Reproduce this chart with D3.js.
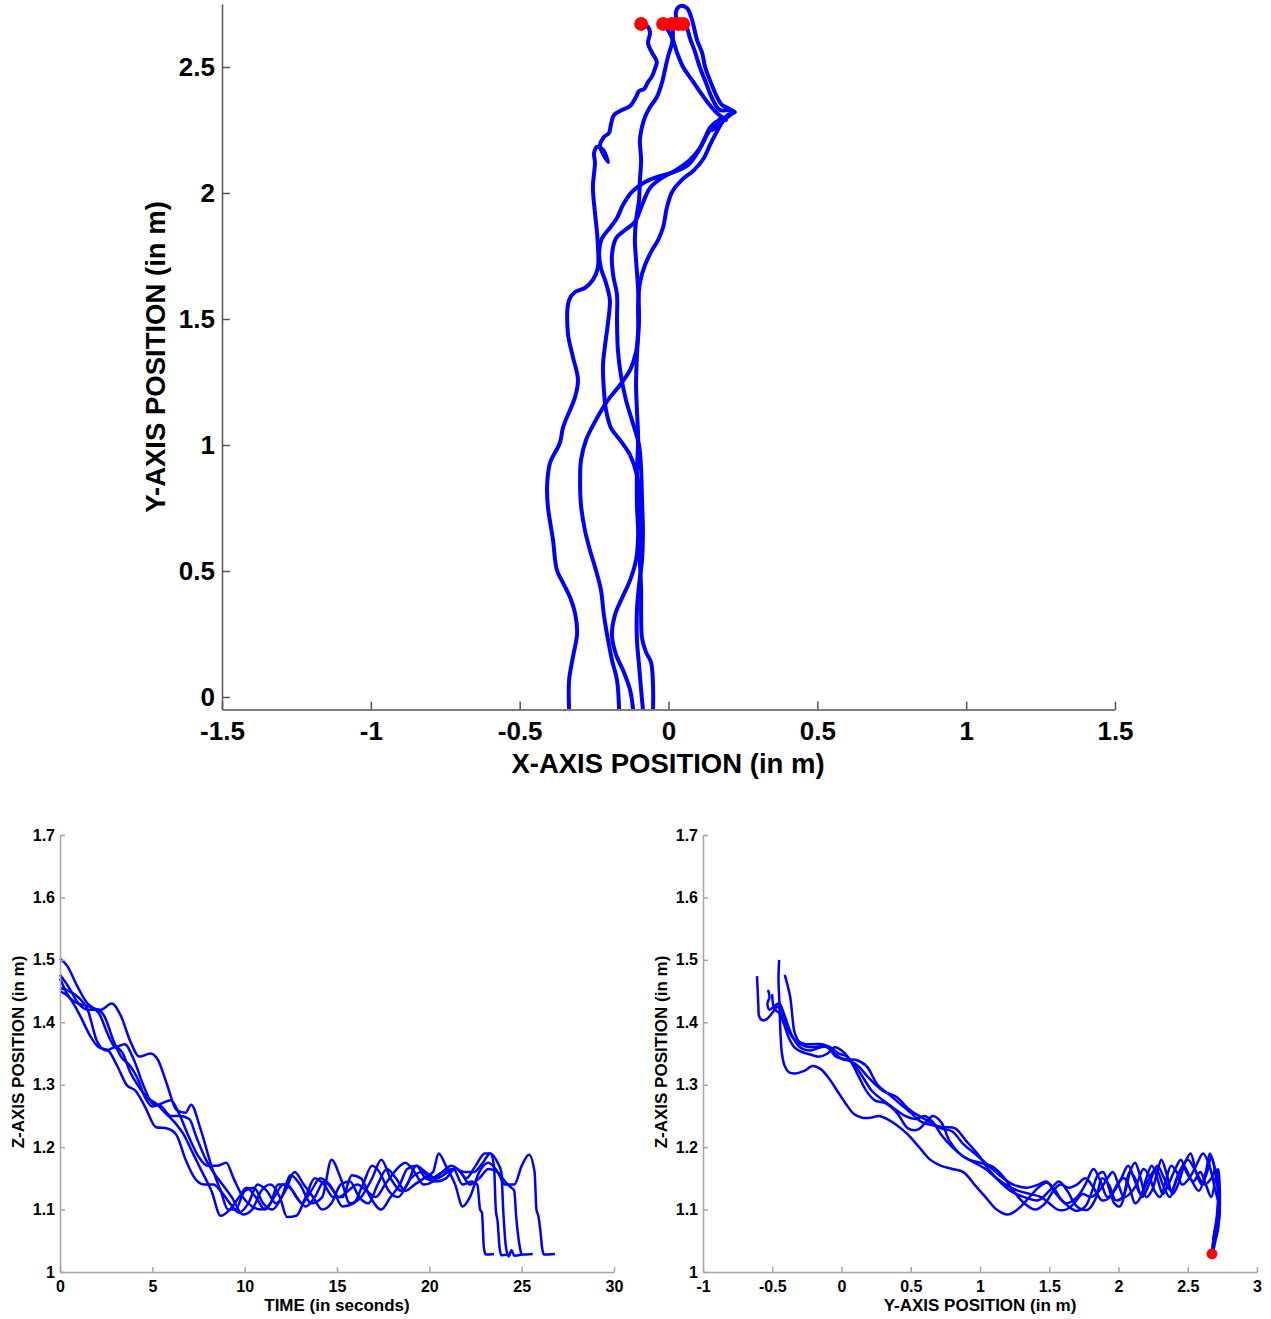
<!DOCTYPE html>
<html>
<head>
<meta charset="utf-8">
<script src="https://cdn.jsdelivr.net/npm/d3@7"></script>
<style>
  body { margin: 0; background: #fff; }
  svg { display: block; }
  text { font-family: "Liberation Sans", Arial, Helvetica, sans-serif; font-weight: bold; fill: #000; }
</style>
</head>
<body>
<svg id="chart" width="1271" height="1319"></svg>
<script>
// ---------- Walking trajectories: floor plane (X, Y) ----------
const trackA = [[-0.334,-0.048],[-0.334,0.067],[-0.321,0.159],[-0.307,0.254],[-0.314,0.333],[-0.331,0.397],[-0.354,0.452],[-0.375,0.504],[-0.388,0.623],[-0.405,0.754],[-0.408,0.833],[-0.398,0.929],[-0.365,1.008],[-0.354,1.071],[-0.314,1.190],[-0.304,1.258],[-0.321,1.349],[-0.338,1.444],[-0.334,1.575],[-0.314,1.607],[-0.281,1.623],[-0.254,1.655],[-0.237,1.706],[-0.237,1.786],[-0.240,1.841],[-0.247,1.921],[-0.254,2.024],[-0.247,2.119],[-0.250,2.159],[-0.240,2.183],[-0.220,2.171],[-0.203,2.123],[-0.230,2.187],[-0.217,2.222],[-0.200,2.238],[-0.193,2.274],[-0.183,2.310],[-0.156,2.329],[-0.129,2.345],[-0.109,2.381],[-0.099,2.405],[-0.082,2.413],[-0.069,2.440],[-0.055,2.464],[-0.045,2.496],[-0.039,2.520],[-0.055,2.556],[-0.069,2.595],[-0.062,2.635],[-0.069,2.659],[-0.092,2.671]];
const trackB = [[-0.166,-0.048],[-0.173,0.067],[-0.190,0.147],[-0.203,0.226],[-0.217,0.325],[-0.227,0.425],[-0.244,0.504],[-0.264,0.583],[-0.281,0.663],[-0.294,0.762],[-0.297,0.861],[-0.294,0.940],[-0.277,1.020],[-0.244,1.099],[-0.203,1.179],[-0.163,1.238],[-0.129,1.298],[-0.109,1.369],[-0.102,1.456],[-0.102,1.556],[-0.096,1.643],[-0.079,1.714],[-0.055,1.774],[-0.035,1.813],[-0.018,1.865],[-0.005,1.944],[0.012,2.004],[0.045,2.052],[0.086,2.091],[0.119,2.139],[0.139,2.190],[0.160,2.238],[0.186,2.290],[0.217,2.321],[0.200,2.337],[0.180,2.349],[0.163,2.381],[0.139,2.448],[0.123,2.500],[0.113,2.556],[0.096,2.607],[0.079,2.687],[0.062,2.734],[0.039,2.742],[0.025,2.718],[0.032,2.671]];
const trackC = [[-0.119,-0.048],[-0.129,0.028],[-0.150,0.099],[-0.176,0.167],[-0.190,0.246],[-0.180,0.325],[-0.156,0.393],[-0.129,0.464],[-0.109,0.544],[-0.102,0.643],[-0.106,0.762],[-0.106,0.901],[-0.102,1.020],[-0.106,1.139],[-0.109,1.238],[-0.106,1.357],[-0.099,1.496],[-0.102,1.615],[-0.109,1.734],[-0.113,1.813],[-0.109,1.893],[-0.099,1.972],[-0.096,2.052],[-0.092,2.131],[-0.096,2.210],[-0.089,2.262],[-0.079,2.302],[-0.062,2.341],[-0.039,2.381],[-0.022,2.437],[-0.012,2.488],[-0.002,2.540],[0.012,2.595],[0.015,2.635],[0.012,2.671]];
const trackD = [[-0.086,-0.048],[-0.092,0.028],[-0.099,0.127],[-0.106,0.226],[-0.106,0.345],[-0.099,0.444],[-0.089,0.544],[-0.086,0.663],[-0.089,0.782],[-0.092,0.901],[-0.099,1.000],[-0.123,1.099],[-0.143,1.179],[-0.160,1.278],[-0.170,1.377],[-0.173,1.496],[-0.173,1.595],[-0.186,1.675],[-0.190,1.754],[-0.176,1.821],[-0.146,1.853],[-0.113,1.885],[-0.089,1.952],[-0.062,2.020],[-0.022,2.060],[0.025,2.091],[0.072,2.131],[0.106,2.179],[0.129,2.230],[0.153,2.270],[0.180,2.298],[0.193,2.290],[0.163,2.317],[0.133,2.357],[0.106,2.401],[0.079,2.448],[0.049,2.500],[0.029,2.556],[0.015,2.607],[-0.002,2.647],[-0.018,2.671]];
const trackE = [[-0.052,-0.048],[-0.052,0.048],[-0.059,0.139],[-0.076,0.179],[-0.089,0.234],[-0.092,0.325],[-0.092,0.425],[-0.096,0.544],[-0.096,0.663],[-0.096,0.782],[-0.106,0.881],[-0.129,0.960],[-0.163,1.020],[-0.193,1.067],[-0.210,1.139],[-0.217,1.218],[-0.220,1.317],[-0.213,1.397],[-0.203,1.488],[-0.197,1.575],[-0.210,1.643],[-0.227,1.702],[-0.233,1.766],[-0.223,1.821],[-0.197,1.861],[-0.173,1.901],[-0.153,1.952],[-0.123,2.004],[-0.079,2.044],[-0.029,2.067],[0.018,2.083],[0.066,2.111],[0.099,2.163],[0.119,2.210],[0.139,2.258],[0.160,2.282],[0.146,2.250],[0.166,2.266],[0.200,2.310],[0.223,2.321],[0.207,2.329],[0.173,2.329],[0.146,2.377],[0.126,2.437],[0.106,2.496],[0.089,2.560],[0.072,2.615],[0.062,2.655],[0.049,2.671]];
const floorTracks = [trackA, trackB, trackC, trackD, trackE];

// ---------- Height (Z) over time ----------
const heightRun1 = [[0,1.502],[0.4,1.49],[0.9,1.46],[1.5,1.43],[2.2,1.42],[2.8,1.43],[3.3,1.41],[3.8,1.37],[4.3,1.345],[4.9,1.35],[5.3,1.34],[5.8,1.30],[6.3,1.26],[6.8,1.255],[7.1,1.268],[7.6,1.23],[8.2,1.17],[8.7,1.13],[9.1,1.10],[9.5,1.10],[10.0,1.13],[10.5,1.135],[11.0,1.11],[11.5,1.10],[12.0,1.12],[12.5,1.155],[13.0,1.14],[13.6,1.11],[14.2,1.12],[14.7,1.18],[15.2,1.15],[15.7,1.11],[16.3,1.12],[16.9,1.15],[17.4,1.18],[17.9,1.15],[18.5,1.13],[19.0,1.15],[19.6,1.16],[20.1,1.15],[20.7,1.16],[21.3,1.165],[21.8,1.14],[22.3,1.145],[22.6,1.14],[22.75,1.10],[22.85,1.095],[22.95,1.04],[23.05,1.028],[23.5,1.029]];
const heightRun2 = [[0,1.476],[0.5,1.455],[1.0,1.43],[1.5,1.42],[2.0,1.42],[2.4,1.41],[2.9,1.37],[3.3,1.345],[3.8,1.33],[4.2,1.31],[4.6,1.28],[5.0,1.265],[5.5,1.27],[6.0,1.275],[6.5,1.25],[7.0,1.215],[7.5,1.185],[8.0,1.17],[8.5,1.17],[9.0,1.175],[9.4,1.15],[9.9,1.12],[10.4,1.105],[10.9,1.10],[11.4,1.11],[11.8,1.14],[12.3,1.14],[12.8,1.12],[13.3,1.105],[13.8,1.12],[14.3,1.145],[14.8,1.13],[15.3,1.105],[15.9,1.11],[16.4,1.14],[16.9,1.17],[17.3,1.16],[17.8,1.13],[18.3,1.12],[18.8,1.14],[19.3,1.17],[19.8,1.16],[20.4,1.15],[21.0,1.16],[21.5,1.165],[22.0,1.15],[22.5,1.17],[23.0,1.19],[23.3,1.19],[23.5,1.17],[23.6,1.10],[23.7,1.08],[23.8,1.04],[23.9,1.027],[24.3,1.028]];
const heightRun3 = [[0,1.47],[0.5,1.44],[1.0,1.43],[1.6,1.425],[2.1,1.415],[2.6,1.38],[3.0,1.36],[3.5,1.365],[4.0,1.34],[4.5,1.30],[5.0,1.27],[5.5,1.265],[6.0,1.25],[6.5,1.25],[7.0,1.245],[7.4,1.215],[7.9,1.18],[8.3,1.16],[8.8,1.14],[9.3,1.12],[9.9,1.092],[10.4,1.10],[10.9,1.13],[11.4,1.14],[11.9,1.12],[12.3,1.088],[12.8,1.09],[13.3,1.12],[13.8,1.15],[14.3,1.14],[14.8,1.12],[15.3,1.12],[15.8,1.155],[16.3,1.15],[16.8,1.12],[17.4,1.10],[17.9,1.12],[18.4,1.14],[18.8,1.165],[19.3,1.17],[19.8,1.15],[20.4,1.145],[20.9,1.15],[21.4,1.165],[21.9,1.16],[22.4,1.16],[22.9,1.175],[23.3,1.19],[23.7,1.175],[23.9,1.16],[24.0,1.10],[24.15,1.04],[24.3,1.025],[24.45,1.035],[24.6,1.026],[25.0,1.028]];
const heightRun4 = [[0,1.455],[0.5,1.45],[1.0,1.44],[1.5,1.42],[2.0,1.37],[2.5,1.355],[3.0,1.36],[3.4,1.35],[3.8,1.32],[4.2,1.30],[4.7,1.28],[5.2,1.27],[5.7,1.255],[6.2,1.24],[6.7,1.22],[7.2,1.19],[7.7,1.16],[8.2,1.13],[8.7,1.09],[9.2,1.10],[9.7,1.12],[10.1,1.135],[10.6,1.12],[11.1,1.10],[11.6,1.12],[12.1,1.14],[12.6,1.13],[13.1,1.11],[13.6,1.13],[14.1,1.15],[14.6,1.14],[15.1,1.12],[15.6,1.13],[16.1,1.14],[16.6,1.13],[17.1,1.12],[17.6,1.14],[18.1,1.16],[18.7,1.175],[19.2,1.16],[19.7,1.14],[20.2,1.145],[20.7,1.16],[21.2,1.17],[21.7,1.16],[22.2,1.14],[22.7,1.15],[23.2,1.165],[23.7,1.16],[24.1,1.145],[24.4,1.136],[24.6,1.13],[24.7,1.09],[24.9,1.04],[25.0,1.028],[25.6,1.029]];
const heightRun5 = [[0,1.45],[0.5,1.44],[1.1,1.41],[1.6,1.38],[2.1,1.36],[2.6,1.355],[3.1,1.33],[3.6,1.30],[4.1,1.29],[4.6,1.265],[5.2,1.232],[5.8,1.23],[6.3,1.22],[6.8,1.18],[7.3,1.15],[7.8,1.14],[8.3,1.14],[8.7,1.13],[9.2,1.11],[9.7,1.095],[10.2,1.11],[10.7,1.14],[11.2,1.13],[11.7,1.11],[12.2,1.13],[12.7,1.16],[13.2,1.14],[13.7,1.12],[14.2,1.10],[14.7,1.11],[15.2,1.14],[15.7,1.145],[16.2,1.12],[16.7,1.11],[17.2,1.14],[17.7,1.165],[18.2,1.15],[18.7,1.13],[19.2,1.14],[19.7,1.15],[20.2,1.16],[20.5,1.19],[20.9,1.17],[21.4,1.14],[21.8,1.105],[22.2,1.12],[22.7,1.16],[23.2,1.175],[23.7,1.16],[24.1,1.14],[24.6,1.14],[25.0,1.17],[25.4,1.188],[25.7,1.16],[25.8,1.10],[25.9,1.09],[26.0,1.07],[26.1,1.04],[26.2,1.028],[26.8,1.029]];
const heightRuns = [heightRun1, heightRun2, heightRun3, heightRun4, heightRun5];

// ---------- Height (Z) against forward position (Y) ----------
const profile1 = [[-0.61,1.474],[-0.605,1.45],[-0.60,1.425],[-0.595,1.41],[-0.57,1.403],[-0.54,1.405],[-0.50,1.415],[-0.46,1.425],[-0.42,1.41],[-0.38,1.385],[-0.33,1.37],[-0.27,1.362],[-0.20,1.36],[-0.12,1.362],[-0.05,1.35],[0.02,1.34],[0.10,1.34],[0.18,1.33],[0.26,1.30],[0.34,1.285],[0.42,1.27],[0.50,1.255],[0.58,1.24],[0.66,1.235],[0.74,1.232],[0.82,1.23],[0.90,1.21],[0.98,1.19],[1.06,1.165],[1.14,1.145],[1.22,1.13],[1.32,1.12],[1.42,1.115],[1.50,1.13],[1.57,1.145],[1.63,1.13],[1.70,1.105],[1.78,1.10],[1.84,1.12],[1.88,1.15],[1.93,1.14],[1.98,1.115],[2.03,1.12],[2.08,1.16],[2.12,1.15],[2.17,1.12],[2.22,1.14],[2.28,1.17],[2.33,1.15],[2.38,1.13],[2.44,1.16],[2.50,1.18],[2.56,1.16],[2.62,1.14],[2.67,1.15],[2.70,1.165],[2.72,1.14],[2.71,1.09],[2.69,1.06],[2.675,1.029]];
const profile2 = [[-0.53,1.452],[-0.52,1.44],[-0.535,1.43],[-0.52,1.42],[-0.49,1.425],[-0.45,1.43],[-0.41,1.41],[-0.36,1.38],[-0.30,1.36],[-0.22,1.355],[-0.15,1.36],[-0.10,1.36],[-0.04,1.345],[0.04,1.34],[0.12,1.33],[0.20,1.31],[0.30,1.29],[0.40,1.28],[0.48,1.262],[0.56,1.25],[0.64,1.24],[0.72,1.23],[0.80,1.225],[0.88,1.205],[0.96,1.19],[1.04,1.175],[1.14,1.155],[1.24,1.14],[1.34,1.135],[1.42,1.14],[1.48,1.145],[1.55,1.125],[1.62,1.11],[1.70,1.12],[1.76,1.14],[1.82,1.165],[1.87,1.145],[1.92,1.12],[1.97,1.13],[2.02,1.15],[2.07,1.17],[2.12,1.145],[2.16,1.125],[2.21,1.145],[2.27,1.165],[2.32,1.14],[2.37,1.12],[2.42,1.15],[2.47,1.17],[2.52,1.15],[2.58,1.13],[2.63,1.16],[2.66,1.19],[2.69,1.17],[2.72,1.13],[2.73,1.10],[2.72,1.07],[2.70,1.05],[2.68,1.029]];
const profile3 = [[-0.45,1.50],[-0.455,1.47],[-0.45,1.44],[-0.445,1.41],[-0.44,1.38],[-0.43,1.35],[-0.41,1.33],[-0.38,1.32],[-0.33,1.318],[-0.27,1.322],[-0.21,1.33],[-0.15,1.325],[-0.09,1.31],[-0.03,1.29],[0.03,1.27],[0.09,1.253],[0.15,1.247],[0.21,1.247],[0.27,1.25],[0.33,1.245],[0.40,1.235],[0.48,1.22],[0.56,1.20],[0.64,1.18],[0.72,1.17],[0.80,1.165],[0.88,1.16],[0.96,1.14],[1.04,1.12],[1.12,1.10],[1.20,1.092],[1.27,1.10],[1.35,1.118],[1.42,1.135],[1.48,1.143],[1.53,1.135],[1.58,1.118],[1.64,1.105],[1.70,1.098],[1.76,1.105],[1.81,1.13],[1.85,1.155],[1.89,1.16],[1.93,1.135],[1.97,1.11],[2.01,1.105],[2.05,1.13],[2.09,1.165],[2.12,1.175],[2.16,1.15],[2.20,1.12],[2.24,1.13],[2.28,1.16],[2.31,1.18],[2.35,1.155],[2.39,1.125],[2.43,1.14],[2.48,1.175],[2.52,1.19],[2.56,1.16],[2.60,1.14],[2.64,1.16],[2.67,1.185],[2.70,1.16],[2.72,1.12],[2.71,1.08],[2.69,1.06],[2.675,1.029]];
const profile4 = [[-0.41,1.476],[-0.39,1.46],[-0.37,1.44],[-0.355,1.41],[-0.34,1.385],[-0.31,1.37],[-0.26,1.365],[-0.20,1.365],[-0.14,1.365],[-0.08,1.36],[-0.02,1.35],[0.04,1.345],[0.10,1.33],[0.16,1.31],[0.22,1.29],[0.30,1.275],[0.38,1.262],[0.46,1.25],[0.54,1.245],[0.60,1.25],[0.66,1.24],[0.72,1.22],[0.80,1.20],[0.88,1.185],[0.96,1.175],[1.04,1.165],[1.12,1.15],[1.20,1.138],[1.28,1.13],[1.36,1.125],[1.44,1.12],[1.50,1.11],[1.56,1.10],[1.62,1.10],[1.68,1.11],[1.74,1.125],[1.80,1.12],[1.86,1.13],[1.92,1.15],[1.96,1.16],[2.00,1.14],[2.04,1.12],[2.08,1.125],[2.13,1.14],[2.18,1.165],[2.22,1.155],[2.26,1.13],[2.30,1.12],[2.34,1.145],[2.38,1.17],[2.42,1.16],[2.46,1.14],[2.51,1.15],[2.56,1.17],[2.61,1.19],[2.65,1.175],[2.68,1.15],[2.70,1.13],[2.73,1.10],[2.72,1.08],[2.70,1.07],[2.68,1.029]];
const profile5 = [[-0.50,1.445],[-0.495,1.43],[-0.48,1.42],[-0.45,1.415],[-0.42,1.40],[-0.38,1.375],[-0.34,1.36],[-0.28,1.352],[-0.22,1.348],[-0.16,1.345],[-0.10,1.35],[-0.05,1.36],[0.00,1.355],[0.06,1.34],[0.12,1.315],[0.18,1.29],[0.24,1.275],[0.32,1.27],[0.40,1.255],[0.48,1.23],[0.55,1.228],[0.61,1.24],[0.66,1.25],[0.72,1.24],[0.78,1.21],[0.85,1.19],[0.92,1.18],[1.00,1.175],[1.08,1.17],[1.16,1.155],[1.24,1.13],[1.32,1.11],[1.40,1.10],[1.47,1.11],[1.53,1.13],[1.58,1.14],[1.64,1.135],[1.70,1.14],[1.76,1.15],[1.82,1.135],[1.88,1.115],[1.94,1.12],[1.99,1.14],[2.04,1.15],[2.08,1.135],[2.12,1.11],[2.16,1.12],[2.20,1.15],[2.24,1.17],[2.28,1.15],[2.32,1.125],[2.36,1.14],[2.41,1.165],[2.45,1.18],[2.49,1.16],[2.54,1.145],[2.59,1.16],[2.63,1.14],[2.67,1.12],[2.70,1.15],[2.72,1.165],[2.73,1.14],[2.73,1.10],[2.71,1.07],[2.69,1.05],[2.675,1.029]];
const heightProfiles = [profile1, profile2, profile3, profile4, profile5];
const profileEnd = [2.675, 1.029];

// ---------- Axis ticks and labels ----------
const floorXTicks = [-1.5, -1, -0.5, 0, 0.5, 1, 1.5];
const floorXLabels = ["-1.5", "-1", "-0.5", "0", "0.5", "1", "1.5"];
const floorYTicks = [0, 0.5, 1, 1.5, 2, 2.5];
const floorYLabels = ["0", "0.5", "1", "1.5", "2", "2.5"];
const timeTicks = [0, 5, 10, 15, 20, 25, 30];
const timeLabels = ["0", "5", "10", "15", "20", "25", "30"];
const heightTicks = [1, 1.1, 1.2, 1.3, 1.4, 1.5, 1.6, 1.7];
const heightLabels = ["1", "1.1", "1.2", "1.3", "1.4", "1.5", "1.6", "1.7"];
const forwardTicks = [-1, -0.5, 0, 0.5, 1, 1.5, 2, 2.5, 3];
const forwardLabels = ["-1", "-0.5", "0", "0.5", "1", "1.5", "2", "2.5", "3"];

const svg = d3.select("#chart");
const lineBlue = "#0000ff";
const markRed = "#ff0000";

function labeler(ticks, labels) {
  return d => labels[ticks.indexOf(d)];
}

function styleAxis(g, color, width, fontSize) {
  g.select(".domain").attr("stroke", color).attr("stroke-width", width);
  g.selectAll(".tick line").attr("stroke", color).attr("stroke-width", width);
  g.selectAll(".tick text").attr("fill", "#000")
    .style("font-family", '"Liberation Sans", Arial, sans-serif')
    .style("font-weight", "bold").style("font-size", fontSize + "px");
  g.attr("font-family", null).attr("font-size", null);
}

// ================= Top panel: X-Y floor plane =================
const fx = d3.scaleLinear().domain([-1.5, 1.5]).range([222, 1115]);
const fy = d3.scaleLinear().domain([-0.05, 2.75]).range([709.6, 4]);

const floorLine = d3.line().x(d => fx(d[0])).y(d => fy(d[1])).curve(d3.curveCatmullRom.alpha(0.5));

svg.append("g").selectAll("path").data(floorTracks).join("path")
  .attr("d", floorLine).attr("fill", "none").attr("stroke", lineBlue)
  .attr("stroke-width", 4).attr("stroke-linejoin", "round").attr("stroke-linecap", "butt");

svg.append("g").selectAll("circle").data(floorTracks.map(t => t[t.length - 1])).join("circle")
  .attr("cx", d => fx(d[0])).attr("cy", d => fy(d[1])).attr("r", 6)
  .attr("fill", markRed).attr("stroke", markRed).attr("stroke-width", 2);

const fxAxis = svg.append("g").attr("transform", `translate(0,${fy(-0.05)})`)
  .call(d3.axisBottom(fx).tickValues(floorXTicks).tickFormat(labeler(floorXTicks, floorXLabels))
    .tickSizeInner(-8).tickSizeOuter(0).tickPadding(12));
styleAxis(fxAxis, "#555555", 1.5, 26);

const fyAxis = svg.append("g").attr("transform", `translate(${fx(-1.5)},0)`)
  .call(d3.axisLeft(fy).tickValues(floorYTicks).tickFormat(labeler(floorYTicks, floorYLabels))
    .tickSizeInner(-8).tickSizeOuter(0).tickPadding(7));
styleAxis(fyAxis, "#555555", 1.5, 26);

svg.append("text").attr("x", 668).attr("y", 773).attr("text-anchor", "middle")
  .style("font-size", "27.5px").text("X-AXIS POSITION (in m)");
svg.append("text").attr("transform", "translate(165,357) rotate(-90)").attr("text-anchor", "middle")
  .style("font-size", "27.5px").text("Y-AXIS POSITION (in m)");

// ================= Bottom left: Z over time =================
const tx = d3.scaleLinear().domain([0, 30]).range([60, 614]);
const zy = d3.scaleLinear().domain([1, 1.7]).range([1272, 835]);

const timeLine = d3.line().x(d => tx(d[0])).y(d => zy(d[1])).curve(d3.curveMonotoneX);
svg.append("g").selectAll("path").data(heightRuns).join("path")
  .attr("d", timeLine).attr("fill", "none").attr("stroke", lineBlue)
  .attr("stroke-width", 2.5).attr("stroke-linejoin", "round");

const txAxis = svg.append("g").attr("transform", `translate(0,${zy(1)})`)
  .call(d3.axisBottom(tx).tickValues(timeTicks).tickFormat(labeler(timeTicks, timeLabels))
    .tickSizeInner(-5).tickSizeOuter(0).tickPadding(9));
styleAxis(txAxis, "#a6a6a6", 1.5, 16);
const tzAxis = svg.append("g").attr("transform", `translate(${tx(0)},0)`)
  .call(d3.axisLeft(zy).tickValues(heightTicks).tickFormat(labeler(heightTicks, heightLabels))
    .tickSizeInner(-5).tickSizeOuter(0).tickPadding(5));
styleAxis(tzAxis, "#a6a6a6", 1.5, 16);

svg.append("text").attr("x", 337).attr("y", 1311).attr("text-anchor", "middle")
  .style("font-size", "17px").text("TIME (in seconds)");
svg.append("text").attr("transform", "translate(24,1052) rotate(-90)").attr("text-anchor", "middle")
  .style("font-size", "17px").text("Z-AXIS POSITION (in m)");

// ================= Bottom right: Z against Y =================
const px = d3.scaleLinear().domain([-1, 3]).range([703, 1257]);

const profileLine = d3.line().x(d => px(d[0])).y(d => zy(d[1])).curve(d3.curveCatmullRom.alpha(0.5));
svg.append("g").selectAll("path").data(heightProfiles).join("path")
  .attr("d", profileLine).attr("fill", "none").attr("stroke", lineBlue)
  .attr("stroke-width", 2.5).attr("stroke-linejoin", "round");

svg.append("circle").attr("cx", px(profileEnd[0])).attr("cy", zy(profileEnd[1])).attr("r", 5)
  .attr("fill", markRed).attr("stroke", markRed).attr("stroke-width", 1);

const pxAxis = svg.append("g").attr("transform", `translate(0,${zy(1)})`)
  .call(d3.axisBottom(px).tickValues(forwardTicks).tickFormat(labeler(forwardTicks, forwardLabels))
    .tickSizeInner(-5).tickSizeOuter(0).tickPadding(9));
styleAxis(pxAxis, "#a6a6a6", 1.5, 16);
const pzAxis = svg.append("g").attr("transform", `translate(${px(-1)},0)`)
  .call(d3.axisLeft(zy).tickValues(heightTicks).tickFormat(labeler(heightTicks, heightLabels))
    .tickSizeInner(-5).tickSizeOuter(0).tickPadding(5));
styleAxis(pzAxis, "#a6a6a6", 1.5, 16);

svg.append("text").attr("x", 980).attr("y", 1311).attr("text-anchor", "middle")
  .style("font-size", "17px").text("Y-AXIS POSITION (in m)");
svg.append("text").attr("transform", "translate(667,1052) rotate(-90)").attr("text-anchor", "middle")
  .style("font-size", "17px").text("Z-AXIS POSITION (in m)");
</script>
</body>
</html>
